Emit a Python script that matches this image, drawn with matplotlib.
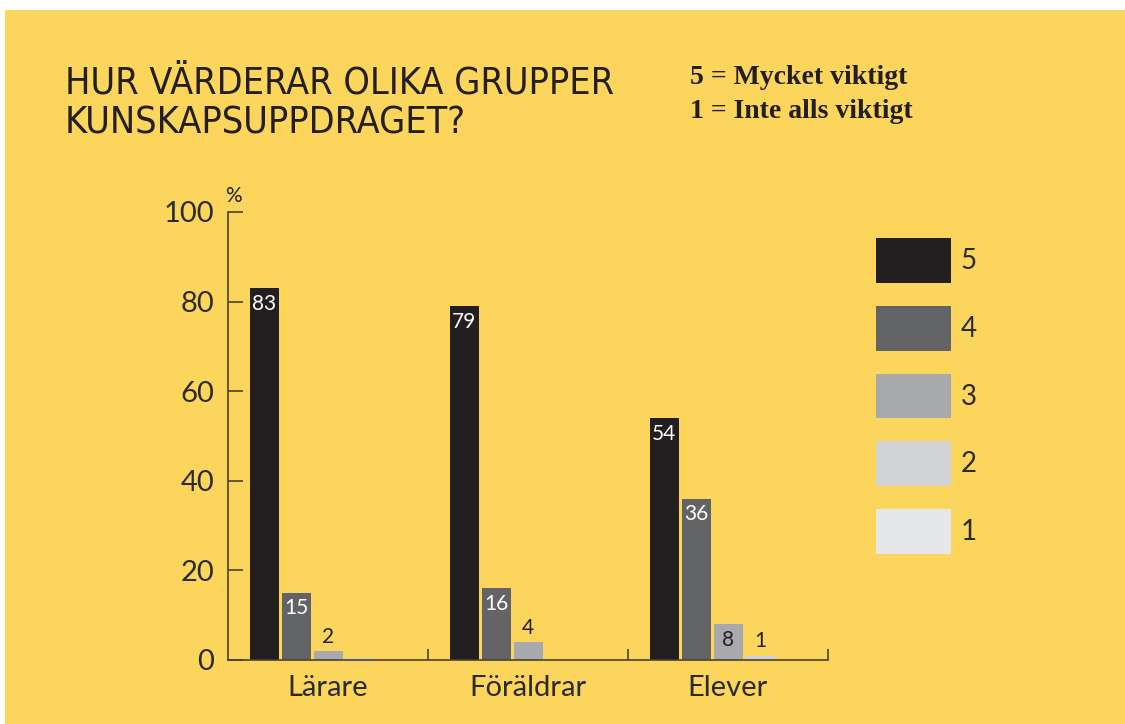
import matplotlib
matplotlib.use("Agg")
import matplotlib.pyplot as plt
from matplotlib.patches import Rectangle
import numpy as np

# data (percent)
groups = ["Lärare", "Föräldrar", "Elever"]
levels = ["5", "4", "3", "2", "1"]
v5 = [83, 79, 54]
v4 = [15, 16, 36]
v3 = [2, 4, 8]
v2 = [0.5, 0, 1]
v1 = [0, 0, 0]
yticks = [0, 20, 40, 60, 80, 100]

series = [v5, v4, v3, v2, v1]
colors = ["#231f20", "#636466", "#a7a9ac", "#d1d3d4", "#e6e7e8"]
bg = "#fcd55d"
ink = "#231f20"
sans = ["Lato", "DejaVu Sans"]

fig = plt.figure(figsize=(11.25, 7.24), dpi=100, facecolor="white")
# yellow panel, white strip on top and left
fig.patches.append(Rectangle((5 / 1125, 0), 1, 1 - 10 / 724, transform=fig.transFigure,
                             facecolor=bg, edgecolor="none", zorder=-5))

ax = fig.add_axes([228 / 1125, 1 - 660 / 724, 600 / 1125, 448 / 724])
ax.set_facecolor("none")
ax.set_zorder(2)

x = np.arange(len(groups))
step, w = 0.16, 0.145
for j, vals in enumerate(series):
    pos = x + (j - 2) * step
    ax.bar(pos, vals, width=w, color=colors[j], label=levels[j], zorder=2)
    for p, v in zip(pos, vals):
        if v < 1:
            continue
        if v >= 8:
            c = "white" if j < 2 else ink
            ax.annotate(str(v), (p, v), xytext=(0, -4), textcoords="offset points",
                        ha="center", va="top", fontsize=15, color=c, family=sans, zorder=3)
        else:
            ax.annotate(str(v), (p, v), xytext=(0, 3), textcoords="offset points",
                        ha="center", va="bottom", fontsize=15, color=ink, family=sans, zorder=3)

ax.set_xlim(-0.5, 2.5)
ax.set_ylim(0, 100)
ax.set_yticks(yticks)
ax.set_xticks(x)
ax.set_xticklabels(groups)
ax.set_xticks([0.5, 1.5, 2.5], minor=True)
for s in ["top", "right"]:
    ax.spines[s].set_visible(False)
for s in ["left", "bottom"]:
    ax.spines[s].set_color("#4a4232")
    ax.spines[s].set_linewidth(1.2)
ax.tick_params(axis="y", direction="in", length=11, width=1.2, color="#4a4232", pad=10,
               labelsize=21, labelcolor="#2b2b2b")
ax.tick_params(axis="x", which="major", length=0, pad=11, labelsize=21, labelcolor="#2b2b2b")
ax.tick_params(axis="x", which="minor", direction="in", length=8, width=1.2, color="#4a4232")
for lab in ax.get_xticklabels() + ax.get_yticklabels():
    lab.set_family(sans)

ax.annotate("%", (0, 1), xycoords="axes fraction", xytext=(4, 4), textcoords="offset points",
            ha="center", va="bottom", fontsize=15, color=ink, family=sans)

leg = ax.legend(loc="upper left", bbox_to_anchor=(876 / 1125, 1 - 238 / 724),
                bbox_transform=fig.transFigure, frameon=False, fontsize=20,
                handlelength=2.7, handleheight=2.1, labelspacing=0.83,
                handletextpad=0.35, borderpad=0, borderaxespad=0)
for t in leg.get_texts():
    t.set_color("#2b2b2b")
    t.set_family(sans)

title_font = ["DejaVu Sans"]
fig.text(65 / 1125, 1 - 94 / 724, "HUR VÄRDERAR OLIKA GRUPPER", fontsize=27,
         color=ink, family=title_font, fontstretch="condensed", fontweight="light",
         va="baseline")
fig.text(65 / 1125, 1 - 134 / 724, "KUNSKAPSUPPDRAGET?", fontsize=27,
         color=ink, family=title_font, fontstretch="condensed", fontweight="light",
         va="baseline")
fig.text(690 / 1125, 1 - 84 / 724, "5 = Mycket viktigt", fontsize=20, fontweight="bold",
         color=ink, family=["Liberation Serif", "DejaVu Serif"], va="baseline")
fig.text(690 / 1125, 1 - 118 / 724, "1 = Inte alls viktigt", fontsize=20, fontweight="bold",
         color=ink, family=["Liberation Serif", "DejaVu Serif"], va="baseline")

fig.savefig("out.png", dpi=100, facecolor=fig.get_facecolor())
